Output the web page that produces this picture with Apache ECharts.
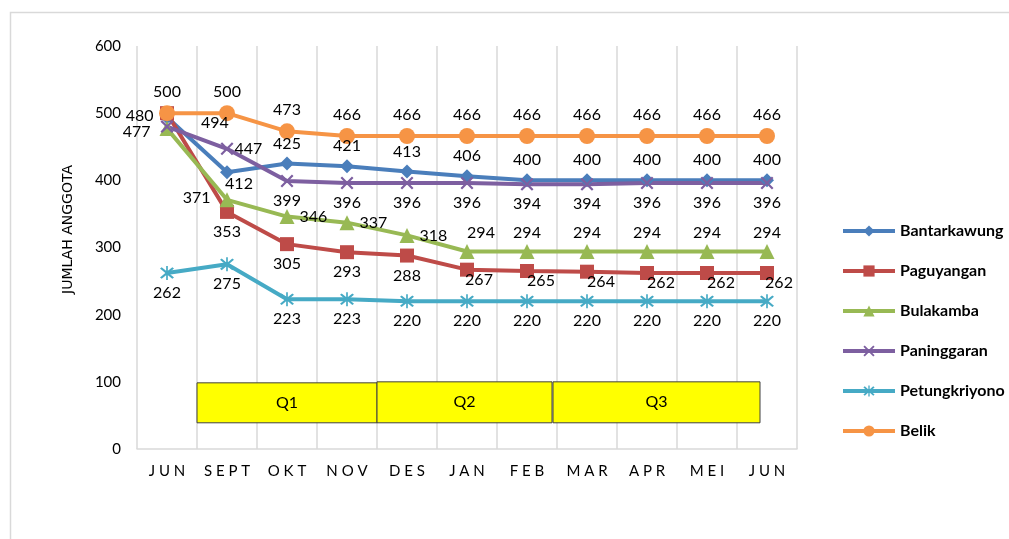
<!DOCTYPE html>
<html lang="en">
<head>
    <meta charset="UTF-8">
    <title>Jumlah Anggota</title>
    <script src="https://cdn.jsdelivr.net/npm/echarts@6/dist/echarts.min.js"></script>
    <style>
        html, body { margin: 0; padding: 0; background: #fff; }
        #main { width: 1009px; height: 539px; }
    </style>
</head>
<body>
<div id="main"></div>
<script>
    // data ------------------------------
    var months = ['JUN', 'SEPT', 'OKT', 'NOV', 'DES', 'JAN', 'FEB', 'MAR', 'APR', 'MEI', 'JUN '];
    var bantarkawung = [494, 412, 425, 421, 413, 406, 400, 400, 400, 400, 400];
    var paguyangan = [500, 353, 305, 293, 288, 267, 265, 264, 262, 262, 262];
    var bulakamba = [477, 371, 346, 337, 318, 294, 294, 294, 294, 294, 294];
    var paninggaran = [480, 447, 399, 396, 396, 396, 394, 394, 396, 396, 396];
    var petungkriyono = [262, 275, 223, 223, 220, 220, 220, 220, 220, 220, 220];
    var belik = [500, 500, 473, 466, 466, 466, 466, 466, 466, 466, 466];
    var quarters = ['Q1', 'Q2', 'Q3'];

    var FONT = 'Lato, "Open Sans", sans-serif';
    var xShape = 'path://M0,1.2 L1.2,0 L5,3.8 L8.8,0 L10,1.2 L6.2,5 L10,8.8 L8.8,10 L5,6.2 L1.2,10 L0,8.8 L3.8,5 Z';
    var starShape = 'path://M0,1.2 L1.2,0 L5,3.8 L8.8,0 L10,1.2 L6.2,5 L10,8.8 L8.8,10 L5,6.2 L1.2,10 L0,8.8 L3.8,5 Z M4.4,-1 L5.6,-1 L5.6,11 L4.4,11 Z';

    // label placement: default position + per point overrides
    function makeData(vals, over) {
        return vals.map(function (v, i) {
            var o = over[i];
            if (o === 'hide') return {value: v, label: {show: false}};
            if (o) return {value: v, label: o};
            return {value: v};
        });
    }

    function line(name, color, symbol, size, vals, pos, over) {
        return {
            name: name,
            type: 'line',
            data: makeData(vals, over || {}),
            symbol: symbol,
            symbolSize: size,
            lineStyle: {color: color, width: 4},
            itemStyle: {color: color},
            label: {
                show: true,
                position: pos,
                distance: 5,
                color: '#000',
                fontSize: 16,
                fontFamily: FONT
            }
        };
    }

    var chart = echarts.init(document.getElementById('main'));
    var option = {
        animation: false,
        backgroundColor: '#fff',
        grid: {left: 137, right: 212, top: 46, bottom: 90},
        legend: {
            orient: 'vertical',
            left: 836,
            top: 218,
            itemWidth: 52,
            itemHeight: 14,
            itemGap: 24,
            lineStyle: {width: 4},
            textStyle: {fontFamily: FONT, fontWeight: 'bold', fontSize: 16, color: '#000'},
            data: ['Bantarkawung', 'Paguyangan', 'Bulakamba', 'Paninggaran', 'Petungkriyono', 'Belik']
        },
        xAxis: {
            type: 'category',
            data: months,
            axisLine: {lineStyle: {color: '#d9d9d9', width: 1.5}},
            axisTick: {show: false},
            splitLine: {show: true, interval: 0, lineStyle: {color: '#d9d9d9', width: 1.5}},
            axisLabel: {
                interval: 0,
                margin: 15,
                color: '#000',
                fontSize: 15,
                fontFamily: FONT,
                formatter: function (v) { return v.trim().split('').join(' '); }
            }
        },
        yAxis: {
            type: 'value',
            min: 0,
            max: 600,
            interval: 100,
            name: 'JUMLAH ANGGOTA',
            nameLocation: 'middle',
            nameGap: 62,
            nameTextStyle: {color: '#000', fontSize: 14, fontFamily: '"DejaVu Sans", sans-serif', padding: [0, 0, 0, 36]},
            axisLine: {show: false},
            axisTick: {show: false},
            splitLine: {show: false},
            axisLabel: {color: '#000', fontSize: 15, fontFamily: FONT, margin: 16}
        },
        series: [
            line('Bantarkawung', '#4a7ebb', 'diamond', 14, bantarkawung, 'top', {
                0: {position: 'right', offset: [22, 6]},
                1: {position: 'bottom', offset: [12, -8]}
            }),
            line('Paguyangan', '#be4b48', 'rect', 14, paguyangan, 'bottom', {
                0: 'hide',
                5: {position: 'bottom', offset: [12, -10]},
                6: {position: 'bottom', offset: [14, -10]},
                7: {position: 'bottom', offset: [14, -10]},
                8: {position: 'bottom', offset: [14, -10]},
                9: {position: 'bottom', offset: [14, -10]},
                10: {position: 'bottom', offset: [12, -10]}
            }),
            line('Bulakamba', '#98b954', 'triangle', 15, bulakamba, 'right', {
                0: {position: 'left', offset: [-4, 3]},
                1: {position: 'left', offset: [-4, -2]},
                5: {position: 'top', offset: [14, 2]},
                6: {position: 'top', offset: [0, 2]},
                7: {position: 'top', offset: [0, 2]},
                8: {position: 'top', offset: [0, 2]},
                9: {position: 'top', offset: [0, 2]},
                10: {position: 'top', offset: [0, 2]}
            }),
            line('Paninggaran', '#7d5fa0', xShape, 13, paninggaran, 'bottom', {
                0: {position: 'left', offset: [-2, -11]},
                1: {position: 'right', offset: [-4, 0]}
            }),
            line('Petungkriyono', '#46aac5', starShape, 14, petungkriyono, 'bottom', {}),
            line('Belik', '#f69445', 'circle', 16, belik, 'top', {})
        ],
        graphic: [
            {
                type: 'rect', left: 8, top: 10, z: -10,
                shape: {width: 1100, height: 600},
                style: {fill: 'none', stroke: '#d9d9d9', lineWidth: 1.5}
            }
        ]
    };
    chart.setOption(option);

    // quarter boxes, placed against the axes
    function boxes() {
        var yTop = chart.convertToPixel({yAxisIndex: 0}, 100);
        var yBot = chart.convertToPixel({yAxisIndex: 0}, 39);
        var spans = [[197, 377, yTop + 1], [377, 552, yTop], [553, 760, yTop]];
        var g = option.graphic.slice();
        spans.forEach(function (s, i) {
            g.push({
                type: 'rect',
                shape: {x: s[0], y: s[2], width: s[1] - s[0], height: yBot - s[2]},
                style: {fill: '#ffff00', stroke: '#404040', lineWidth: 1},
                z: 5
            });
            g.push({
                type: 'text',
                x: (s[0] + s[1]) / 2,
                y: (s[2] + yBot) / 2,
                style: {text: quarters[i], fill: '#000', font: '16px ' + FONT, align: 'center', verticalAlign: 'middle'},
                z: 6
            });
        });
        chart.setOption({graphic: g});
    }
    boxes();
</script>
</body>
</html>
